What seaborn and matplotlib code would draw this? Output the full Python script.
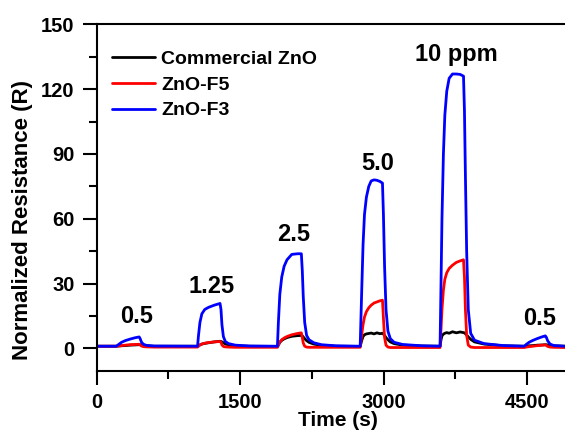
import numpy as np
import pandas as pd
import matplotlib
matplotlib.use("Agg")
import matplotlib.pyplot as plt
import seaborn as sns
from matplotlib.ticker import MultipleLocator

# time points (s), shared by the three sensors (one row per pulse)
time_s = [0, 205, 230, 260, 300, 350, 400, 445, 455, 470, 490, 520, 600,
          1055, 1065, 1080, 1100, 1130, 1170, 1230, 1290, 1300, 1310, 1325, 1345, 1380, 1450, 1600,
          1890, 1900, 1915, 1935, 1960, 1990, 2040, 2100, 2140, 2150, 2160, 2175, 2195, 2220, 2270, 2350, 2500,
          2755, 2770, 2785, 2800, 2820, 2845, 2870, 2900, 2930, 2960, 2988, 2998, 3010, 3025, 3045, 3070, 3110, 3200, 3400,
          3590, 3600, 3610, 3625, 3640, 3660, 3685, 3720, 3760, 3800, 3835, 3845, 3855, 3868, 3885, 3910, 3950, 4050, 4250,
          4470, 4490, 4520, 4560, 4610, 4660, 4690, 4700, 4715, 4740, 4780, 4900]

zno_f3 = [1.0, 1.0, 1.8, 2.8, 3.6, 4.3, 4.9, 5.3, 4.5, 2.8, 1.9, 1.4, 1.1,
          1.0, 6.0, 12.0, 16.0, 18.0, 19.0, 20.0, 20.8, 18.0, 11.0, 5.5, 3.2, 2.2, 1.5, 1.1,
          1.0, 12.0, 25.0, 33.0, 38.0, 41.0, 43.5, 43.8, 43.8, 36.0, 24.0, 12.0, 6.0, 4.0, 2.6, 1.7, 1.2,
          1.0, 25.0, 48.0, 62.0, 70.0, 75.0, 77.5, 78.0, 77.8, 77.3, 76.5, 62.0, 38.0, 18.0, 8.0, 4.5, 2.8, 1.8, 1.2,
          1.0, 30.0, 60.0, 90.0, 108.0, 119.0, 125.0, 127.0, 127.0, 126.8, 126.0, 110.0, 80.0, 45.0, 18.0, 7.0, 3.8, 2.2, 1.3,
          1.0, 1.8, 2.8, 3.7, 4.6, 5.4, 5.8, 5.2, 3.5, 2.0, 1.3, 1.0]

zno_f5 = [1.0, 1.0, 1.1, 1.3, 1.5, 1.7, 1.8, 1.9, 1.6, 1.1, 0.8, 0.7, 0.6,
          0.6, 1.0, 1.6, 2.0, 2.4, 2.7, 3.0, 3.2, 2.8, 1.6, 0.9, 0.7, 0.6, 0.5, 0.5,
          0.5, 1.5, 3.0, 4.0, 4.8, 5.5, 6.3, 6.9, 7.2, 5.0, 2.5, 1.0, 0.6, 0.5, 0.5, 0.5, 0.5,
          0.5, 6.0, 11.0, 14.5, 17.0, 18.8, 20.0, 21.0, 21.5, 22.0, 22.3, 14.0, 5.0, 1.5, 0.6, 0.4, 0.4, 0.4, 0.4,
          0.4, 9.0, 18.0, 27.0, 32.0, 35.0, 37.0, 38.5, 39.8, 40.5, 41.0, 33.0, 18.0, 6.0, 1.5, 0.6, 0.4, 0.4, 0.4,
          0.4, 0.6, 0.8, 1.0, 1.3, 1.5, 1.6, 1.4, 0.9, 0.6, 0.5, 0.4]

commercial = [1.0, 1.0, 1.1, 1.2, 1.3, 1.5, 1.6, 1.7, 1.7, 1.5, 1.3, 1.2, 1.0,
              1.0, 1.2, 1.6, 2.0, 2.3, 2.6, 3.0, 3.3, 3.2, 3.0, 2.6, 2.1, 1.6, 1.2, 1.0,
              0.9, 1.5, 2.8, 3.7, 4.4, 5.0, 5.6, 5.9, 6.0, 5.8, 5.3, 4.5, 3.6, 2.8, 2.0, 1.4, 1.0,
              0.9, 3.5, 5.5, 6.3, 6.7, 6.9, 7.1, 6.7, 7.2, 6.8, 7.0, 6.6, 6.0, 5.0, 4.0, 3.0, 2.2, 1.5, 1.1,
              1.0, 4.0, 5.8, 6.6, 7.0, 7.3, 7.0, 7.7, 7.2, 7.6, 7.3, 7.2, 6.8, 6.2, 5.3, 4.2, 3.0, 2.0, 1.2,
              1.0, 1.1, 1.2, 1.3, 1.5, 1.6, 1.7, 1.7, 1.6, 1.4, 1.2, 1.0]

series_names = ["Commercial ZnO", "ZnO-F5", "ZnO-F3"]
series_colors = ["black", "red", "blue"]

# concentration labels
conc_x = [417, 1205, 2060, 2933, 3757, 4630]
conc_y = [14.6, 28.8, 52.8, 85.6, 136.0, 13.9]
conc_text = ["0.5", "1.25", "2.5", "5.0", "10 ppm", "0.5"]

df = pd.concat([
    pd.DataFrame({"t": time_s, "R": commercial, "sample": series_names[0]}),
    pd.DataFrame({"t": time_s, "R": zno_f5, "sample": series_names[1]}),
    pd.DataFrame({"t": time_s, "R": zno_f3, "sample": series_names[2]}),
])

sns.set_style("ticks")
plt.rcParams['font.family'] = ['Liberation Sans', 'DejaVu Sans']
plt.rcParams['font.weight'] = 'bold'
plt.rcParams['text.color'] = 'black'
plt.rcParams['axes.labelcolor'] = 'black'
plt.rcParams['axes.edgecolor'] = 'black'
plt.rcParams['xtick.color'] = 'black'
plt.rcParams['ytick.color'] = 'black'

fig = plt.figure(figsize=(5.65, 4.34), dpi=100)
ax = fig.add_axes([0.171, 0.145, 0.829, 0.799])

sns.lineplot(data=df, x="t", y="R", hue="sample", hue_order=series_names,
             palette=series_colors, linewidth=2.0, ax=ax, estimator=None)

for x, y, s in zip(conc_x, conc_y, conc_text):
    ax.text(x, y, s, ha="center", va="center", fontsize=17, fontweight="bold")

ax.set_xlim(0, 4896)
ax.set_ylim(-10.5, 150)
ax.xaxis.set_major_locator(MultipleLocator(1500))
ax.xaxis.set_minor_locator(MultipleLocator(750))
ax.yaxis.set_major_locator(MultipleLocator(30))
ax.yaxis.set_minor_locator(MultipleLocator(15))

ax.tick_params(which="major", direction="out", length=10, width=1.5,
               labelsize=14.5, pad=6)
ax.tick_params(which="minor", direction="out", length=6, width=1.5)
for lab in ax.get_xticklabels() + ax.get_yticklabels():
    lab.set_fontweight("bold")

for side in ["left", "bottom", "top"]:
    ax.spines[side].set_linewidth(1.5)
ax.spines["right"].set_visible(False)

ax.set_xlabel("Time (s)", fontsize=15, fontweight="bold")
ax.set_ylabel("Normalized Resistance (R)", fontsize=16, fontweight="bold")
ax.xaxis.set_label_coords(0.515, -0.115)
ax.yaxis.set_label_coords(-0.136, 0.435)

leg = ax.legend(loc="upper left", bbox_to_anchor=(0.032, 0.925), frameon=False,
                fontsize=14, handlelength=2.25, handletextpad=0.3,
                labelspacing=0.42, borderpad=0, borderaxespad=0)
for line in leg.get_lines():
    line.set_linewidth(2.0)

fig.savefig("out.png", dpi=100)
